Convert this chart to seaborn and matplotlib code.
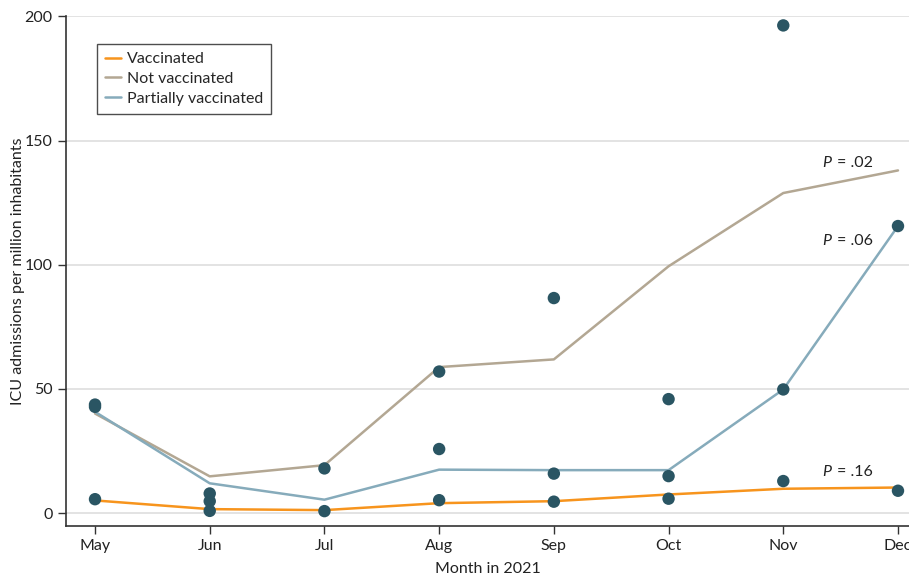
import matplotlib
matplotlib.use("Agg")
import matplotlib.pyplot as plt
import seaborn as sns
import pandas as pd

months = ["May", "Jun", "Jul", "Aug", "Sep", "Oct", "Nov", "Dec"]

# Fitted trend per vaccination status
vaccinated = [5.1, 1.6, 1.2, 4.0, 4.8, 7.5, 9.8, 10.3]
not_vaccinated = [40.1, 14.8, 19.3, 58.8, 61.9, 99.4, 128.9, 138.0]
partially_vaccinated = [40.8, 12.0, 5.4, 17.5, 17.3, 17.3, 49.8, 115.6]

# Observed monthly values (month index, admissions)
obs_month = [0, 0, 0, 1, 1, 1, 2, 2, 3, 3, 3, 4, 4, 4, 5, 5, 5, 6, 6, 6, 7, 7]
obs_value = [43.7, 42.8, 5.6, 7.9, 4.8, 0.9, 18.0, 0.8, 57.0, 25.8, 5.2,
             86.6, 15.9, 4.6, 45.9, 14.9, 5.8, 196.4, 49.8, 12.9, 115.6, 9.0]

p_values = [".02", ".06", ".16"]
p_label_y = [140.8, 109.5, 16.5]

series_names = ["Vaccinated", "Not vaccinated", "Partially vaccinated"]
palette = {"Vaccinated": "#f7941d", "Not vaccinated": "#b3a793",
           "Partially vaccinated": "#86abbb"}

trend = pd.DataFrame({
    "month": list(range(len(months))) * 3,
    "value": vaccinated + not_vaccinated + partially_vaccinated,
    "status": [s for s in series_names for _ in months],
})
obs = pd.DataFrame({"month": obs_month, "value": obs_value})

sns.set_style("white")
plt.rcParams["font.family"] = ["Lato", "DejaVu Sans"]

fig = plt.figure(figsize=(9.09, 5.75), dpi=100)
ax = fig.add_axes([0.0726, 0.0852, 0.9274, 0.887])

for y in [0, 50, 100, 150, 200]:
    ax.axhline(y, color="#dedede", lw=1.2, zorder=0)

sns.lineplot(data=trend, x="month", y="value", hue="status", hue_order=series_names,
             palette=palette, lw=1.8, ax=ax, zorder=2)
sns.scatterplot(data=obs, x="month", y="value", color="#2a5563", s=80,
                edgecolor="none", ax=ax, zorder=3, legend=False)

# P-value annotations: italic P followed by the value
for pv, yv in zip(p_values, p_label_y):
    ax.text(6.34, yv, "P", fontsize=11.5, style="italic", va="center", ha="left", color="#222222")
    ax.text(6.465, yv, "= " + pv, fontsize=11.5, va="center", ha="left", color="#222222")

ax.set_xlim(-0.253, 7.096)
ax.set_ylim(-5.2, 200.2)
ax.set_xticks(range(len(months)))
ax.set_xticklabels(months)
ax.set_yticks([0, 50, 100, 150, 200])
ax.set_xlabel("Month in 2021", fontsize=11.5, color="#222222", labelpad=6)
ax.set_ylabel("ICU admissions per million inhabitants", fontsize=11.5, color="#222222", labelpad=0)
ax.tick_params(axis="both", direction="out", length=6, width=1, color="#333333",
               labelsize=11.5, labelcolor="#222222", bottom=True, left=True)

sns.despine(ax=ax)
for side in ["left", "bottom"]:
    ax.spines[side].set_color("#333333")
    ax.spines[side].set_linewidth(1.2)
ax.spines["left"].set_bounds(-5.2, 200)

leg = ax.legend(loc="upper left", bbox_to_anchor=(0.037, 0.945), borderaxespad=0,
                frameon=True, fancybox=False, fontsize=11.5, handlelength=1.0,
                handletextpad=0.35, labelspacing=0.35, borderpad=0.5)
leg.get_frame().set_edgecolor("#222222")
leg.get_frame().set_linewidth(1.0)

fig.savefig("out.png", dpi=100)
